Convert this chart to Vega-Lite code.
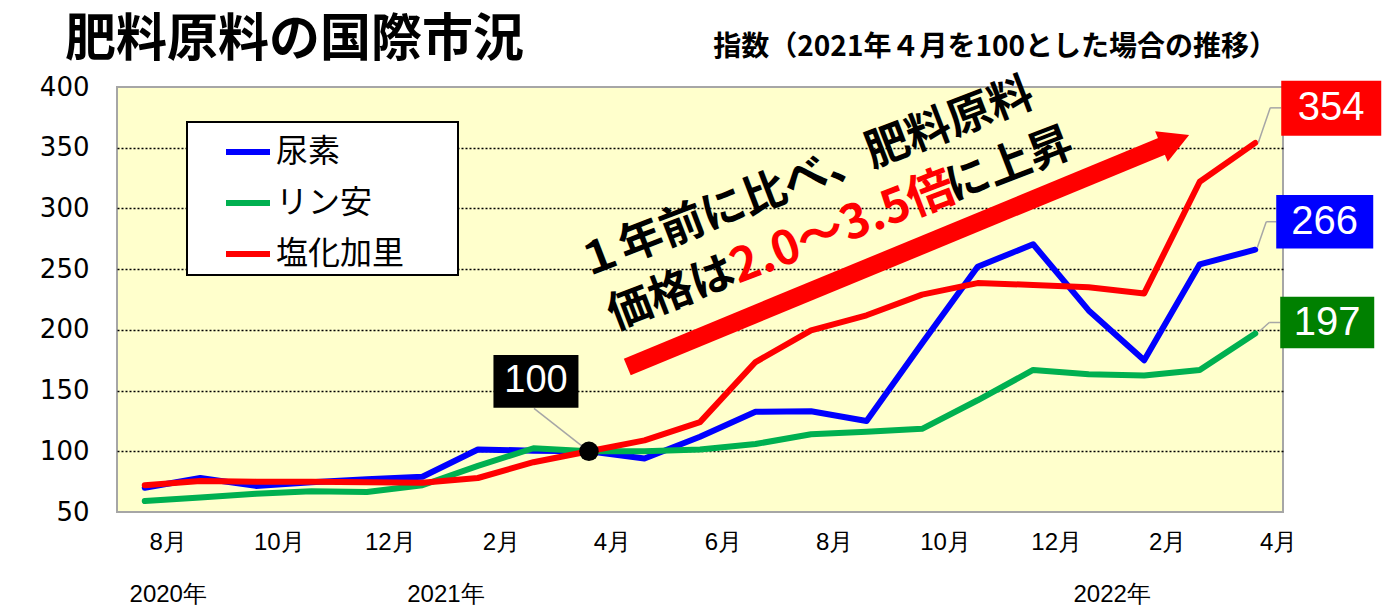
{
  "$schema": "https://vega.github.io/schema/vega-lite/v6.json",
  "width": 1166,
  "height": 425,
  "autosize": {"type": "none"},
  "padding": {"left": 117, "top": 87, "right": 102, "bottom": 100},
  "background": "white",
  "title": {
    "text": "肥料原料の国際市況",
    "anchor": "start",
    "frame": "group",
    "dx": -52,
    "offset": -33,
    "font": "Noto Sans CJK JP",
    "fontSize": 51,
    "fontWeight": "bold",
    "color": "black"
  },
  "config": {
    "view": {"fill": "#FFFFCC", "stroke": "#A6A6A6", "strokeWidth": 2},
    "legend": {"strokeWidth": 2}
  },
  "datasets": {
    "prices": [
      {"month": "2020-08", "t": 0, "尿素": 70, "リン安": 59, "塩化加里": 72},
      {"month": "2020-09", "t": 1, "尿素": 78, "リン安": 62, "塩化加里": 75.5},
      {"month": "2020-10", "t": 2, "尿素": 71.5, "リン安": 65, "塩化加里": 75},
      {"month": "2020-11", "t": 3, "尿素": 74.5, "リン安": 67, "塩化加里": 75},
      {"month": "2020-12", "t": 4, "尿素": 77, "リン安": 66.5, "塩化加里": 74.5},
      {"month": "2021-01", "t": 5, "尿素": 79, "リン安": 72, "塩化加里": 74},
      {"month": "2021-02", "t": 6, "尿素": 101.5, "リン安": 88, "塩化加里": 78},
      {"month": "2021-03", "t": 7, "尿素": 100.5, "リン安": 102.5, "塩化加里": 91},
      {"month": "2021-04", "t": 8, "尿素": 100, "リン安": 100, "塩化加里": 100},
      {"month": "2021-05", "t": 9, "尿素": 94, "リン安": 100, "塩化加里": 109},
      {"month": "2021-06", "t": 10, "尿素": 112, "リン安": 101.5, "塩化加里": 124},
      {"month": "2021-07", "t": 11, "尿素": 132.5, "リン安": 106, "塩化加里": 173.5},
      {"month": "2021-08", "t": 12, "尿素": 133, "リン安": 114, "塩化加里": 199.5},
      {"month": "2021-09", "t": 13, "尿素": 125, "リン安": 116, "塩化加里": 212},
      {"month": "2021-10", "t": 14, "尿素": 189, "リン安": 118.5, "塩化加里": 229},
      {"month": "2021-11", "t": 15, "尿素": 252, "リン安": 142, "塩化加里": 238.5},
      {"month": "2021-12", "t": 16, "尿素": 270.5, "リン安": 167, "塩化加里": 237},
      {"month": "2022-01", "t": 17, "尿素": 216, "リン安": 163.5, "塩化加里": 235},
      {"month": "2022-02", "t": 18, "尿素": 175, "リン安": 162.5, "塩化加里": 230},
      {"month": "2022-03", "t": 19, "尿素": 254, "リン安": 167, "塩化加里": 322},
      {"month": "2022-04", "t": 20, "尿素": 266, "リン安": 197, "塩化加里": 354}
    ],
    "arrow": [{"t": 8.69, "v": 169.4, "t2": 18.39, "v2": 352.6}],
    "arrowhead": [{"t": 18.56, "v": 355.8}],
    "notes": [
      {"t": 7.84, "v": 252.6, "text": "１年前に比べ、肥料原料", "emphasis": false},
      {"t": 8.38, "v": 209.8, "text": "価格は", "emphasis": false},
      {"t": 10.6, "v": 248.8, "text": "2.0～3.5倍", "emphasis": true},
      {"t": 14.47, "v": 315.7, "text": "に上昇", "emphasis": false}
    ],
    "subtitle": [{"t": 10.24, "v": 432, "text": "指数（2021年４月を100とした場合の推移）"}]
  },
  "layer": [
    {
      "data": {"name": "prices"},
      "transform": [{"fold": ["尿素", "リン安", "塩化加里"], "as": ["品目", "指数"]}],
      "encoding": {
        "x": {
          "field": "t",
          "type": "quantitative",
          "scale": {"domain": [-0.5, 20.5], "nice": false, "zero": false},
          "axis": {
            "values": [0, 2, 4, 5, 6, 8, 10, 12, 14, 16, 17, 18, 20],
            "title": null,
            "domain": false,
            "ticks": false,
            "grid": false,
            "labelExpr": "datum.value == 0 ? ['8月', '2020年'] : datum.value == 5 ? ['', '2021年'] : datum.value == 17 ? ['', '2022年'] : [((datum.value + 7) % 12 + 1) + '月']",
            "labelLineHeight": 52,
            "labelFont": "Liberation Sans",
            "labelFontSize": 24,
            "labelColor": "black",
            "labelPadding": 18,
            "labelOffset": 23,
            "labelFlush": false,
            "labelOverlap": false,
            "labelBound": false
          }
        },
        "y": {
          "field": "指数",
          "type": "quantitative",
          "scale": {"domain": [50, 400], "nice": false, "zero": false},
          "axis": {
            "values": [50, 100, 150, 200, 250, 300, 350, 400],
            "title": null,
            "domain": false,
            "ticks": false,
            "labelPadding": 28,
            "labelFont": "DejaVu Sans",
            "labelFontSize": 26,
            "labelColor": "black",
            "labelFlush": false,
            "labelOverlap": false,
            "grid": true,
            "gridColor": "black",
            "gridDash": [2, 2],
            "gridWidth": 1.5,
            "gridOpacity": {"condition": {"test": "datum.value == 50 || datum.value == 400", "value": 0}, "value": 1}
          }
        }
      },
      "layer": [
        {
          "mark": {"type": "line", "strokeWidth": 6, "strokeCap": "round", "strokeJoin": "round"},
          "encoding": {
            "color": {
              "field": "品目",
              "type": "nominal",
              "scale": {"domain": ["尿素", "リン安", "塩化加里"], "range": ["#0000FF", "#00B050", "#FF0000"]},
              "legend": {
                "orient": "none",
                "legendX": 70,
                "legendY": 35,
                "title": null,
                "symbolType": "stroke",
                "symbolStrokeWidth": 6,
                "symbolSize": 1936,
                "symbolOffset": 31,
                "labelOffset": 3,
                "labelFontSize": 32,
                "labelFont": "Noto Sans CJK JP",
                "labelColor": "black",
                "labelLimit": 400,
                "labelExpr": "datum.label + '\u3000\u2002\u200B'",
                "rowPadding": 10,
                "padding": 5,
                "strokeColor": "black",
                "fillColor": "white"
              }
            }
          }
        },
        {
          "transform": [{"filter": "datum.t == 8 && datum['品目'] == '尿素'"}],
          "layer": [
            {"mark": {"type": "rule", "color": "#A6A6A6", "strokeWidth": 1.5, "xOffset": -55, "yOffset": -43, "x2Offset": -4, "y2Offset": -3}, "encoding": {"x2": {"field": "t"}, "y2": {"field": "指数"}}},
            {"mark": {"type": "point", "shape": "M-1,-0.62L1,-0.62L1,0.62L-1,0.62Z", "size": 7225, "filled": true, "color": "black", "opacity": 1, "xOffset": -53, "yOffset": -70}},
            {"mark": {"type": "text", "color": "white", "font": "Liberation Sans", "fontSize": 38, "dx": -53, "dy": -70, "align": "center", "baseline": "middle"}, "encoding": {"text": {"field": "指数"}}},
            {"mark": {"type": "point", "shape": "circle", "size": 380, "filled": true, "color": "black", "opacity": 1}}
          ]
        },
        {
          "transform": [{"filter": "datum.t == 20 && datum['品目'] == '塩化加里'"}],
          "layer": [
            {"mark": {"type": "rule", "color": "#A6A6A6", "strokeWidth": 1.5, "xOffset": 3, "yOffset": 0, "x2Offset": 15, "y2Offset": -35}, "encoding": {"x2": {"field": "t"}, "y2": {"field": "指数"}}},
            {"mark": {"type": "rule", "color": "#A6A6A6", "strokeWidth": 1.5, "xOffset": 15, "yOffset": -35, "x2Offset": 26, "y2Offset": -35}, "encoding": {"x2": {"field": "t"}, "y2": {"field": "指数"}}},
            {"mark": {"type": "point", "shape": "M-1,-0.55L1,-0.55L1,0.55L-1,0.55Z", "size": 10000, "filled": true, "color": "#FF0000", "opacity": 1, "xOffset": 76, "yOffset": -34.5}},
            {"mark": {"type": "text", "color": "white", "font": "Liberation Sans", "fontSize": 40, "dx": 76, "dy": -34.5, "align": "center", "baseline": "middle"}, "encoding": {"text": {"field": "指数"}}}
          ]
        },
        {
          "transform": [{"filter": "datum.t == 20 && datum['品目'] == '尿素'"}],
          "layer": [
            {"mark": {"type": "rule", "color": "#A6A6A6", "strokeWidth": 1.5, "xOffset": 2, "yOffset": -2, "x2Offset": 11, "y2Offset": -28}, "encoding": {"x2": {"field": "t"}, "y2": {"field": "指数"}}},
            {"mark": {"type": "rule", "color": "#A6A6A6", "strokeWidth": 1.5, "xOffset": 11, "yOffset": -28, "x2Offset": 21, "y2Offset": -28}, "encoding": {"x2": {"field": "t"}, "y2": {"field": "指数"}}},
            {"mark": {"type": "point", "shape": "M-1,-0.55L1,-0.55L1,0.55L-1,0.55Z", "size": 9409, "filled": true, "color": "#0000FF", "opacity": 1, "xOffset": 69.5, "yOffset": -28}},
            {"mark": {"type": "text", "color": "white", "font": "Liberation Sans", "fontSize": 40, "dx": 69.5, "dy": -28, "align": "center", "baseline": "middle"}, "encoding": {"text": {"field": "指数"}}}
          ]
        },
        {
          "transform": [{"filter": "datum.t == 20 && datum['品目'] == 'リン安'"}],
          "layer": [
            {"mark": {"type": "rule", "color": "#A6A6A6", "strokeWidth": 1.5, "xOffset": 4, "yOffset": -2, "x2Offset": 14, "y2Offset": -11}, "encoding": {"x2": {"field": "t"}, "y2": {"field": "指数"}}},
            {"mark": {"type": "rule", "color": "#A6A6A6", "strokeWidth": 1.5, "xOffset": 14, "yOffset": -11, "x2Offset": 25, "y2Offset": -11}, "encoding": {"x2": {"field": "t"}, "y2": {"field": "指数"}}},
            {"mark": {"type": "point", "shape": "M-1,-0.55L1,-0.55L1,0.55L-1,0.55Z", "size": 8836, "filled": true, "color": "#008000", "opacity": 1, "xOffset": 72, "yOffset": -11}},
            {"mark": {"type": "text", "color": "white", "font": "Liberation Sans", "fontSize": 40, "dx": 72, "dy": -11, "align": "center", "baseline": "middle"}, "encoding": {"text": {"field": "指数"}}}
          ]
        }
      ]
    },
    {
      "data": {"name": "arrow"},
      "mark": {"type": "rule", "color": "#FF0000", "strokeWidth": 18, "strokeCap": "butt"},
      "encoding": {
        "x": {"field": "t", "type": "quantitative"},
        "y": {"field": "v", "type": "quantitative"},
        "x2": {"field": "t2"},
        "y2": {"field": "v2"}
      }
    },
    {
      "data": {"name": "arrowhead"},
      "mark": {"type": "point", "shape": "M-1,-1.1L1,0L-1,1.1Z", "size": 900, "angle": -22.5, "filled": true, "color": "#FF0000", "opacity": 1},
      "encoding": {
        "x": {"field": "t", "type": "quantitative"},
        "y": {"field": "v", "type": "quantitative"}
      }
    },
    {
      "data": {"name": "notes"},
      "transform": [{"filter": "!datum.emphasis"}],
      "mark": {"type": "text", "font": "Noto Sans CJK JP", "fontWeight": "bold", "fontSize": 44, "angle": -21, "align": "left", "baseline": "middle", "color": "black"},
      "encoding": {
        "x": {"field": "t", "type": "quantitative"},
        "y": {"field": "v", "type": "quantitative"},
        "text": {"field": "text"}
      }
    },
    {
      "data": {"name": "notes"},
      "transform": [{"filter": "datum.emphasis"}],
      "mark": {"type": "text", "font": "Noto Sans CJK JP", "fontWeight": "bold", "fontSize": 47, "angle": -21, "align": "left", "baseline": "middle", "color": "#FF0000"},
      "encoding": {
        "x": {"field": "t", "type": "quantitative"},
        "y": {"field": "v", "type": "quantitative"},
        "text": {"field": "text"}
      }
    },
    {
      "data": {"name": "subtitle"},
      "mark": {"type": "text", "font": "Noto Sans CJK JP", "fontWeight": "bold", "fontSize": 28, "align": "left", "baseline": "middle", "color": "black"},
      "encoding": {
        "x": {"field": "t", "type": "quantitative"},
        "y": {"field": "v", "type": "quantitative"},
        "text": {"field": "text"}
      }
    }
  ]
}
